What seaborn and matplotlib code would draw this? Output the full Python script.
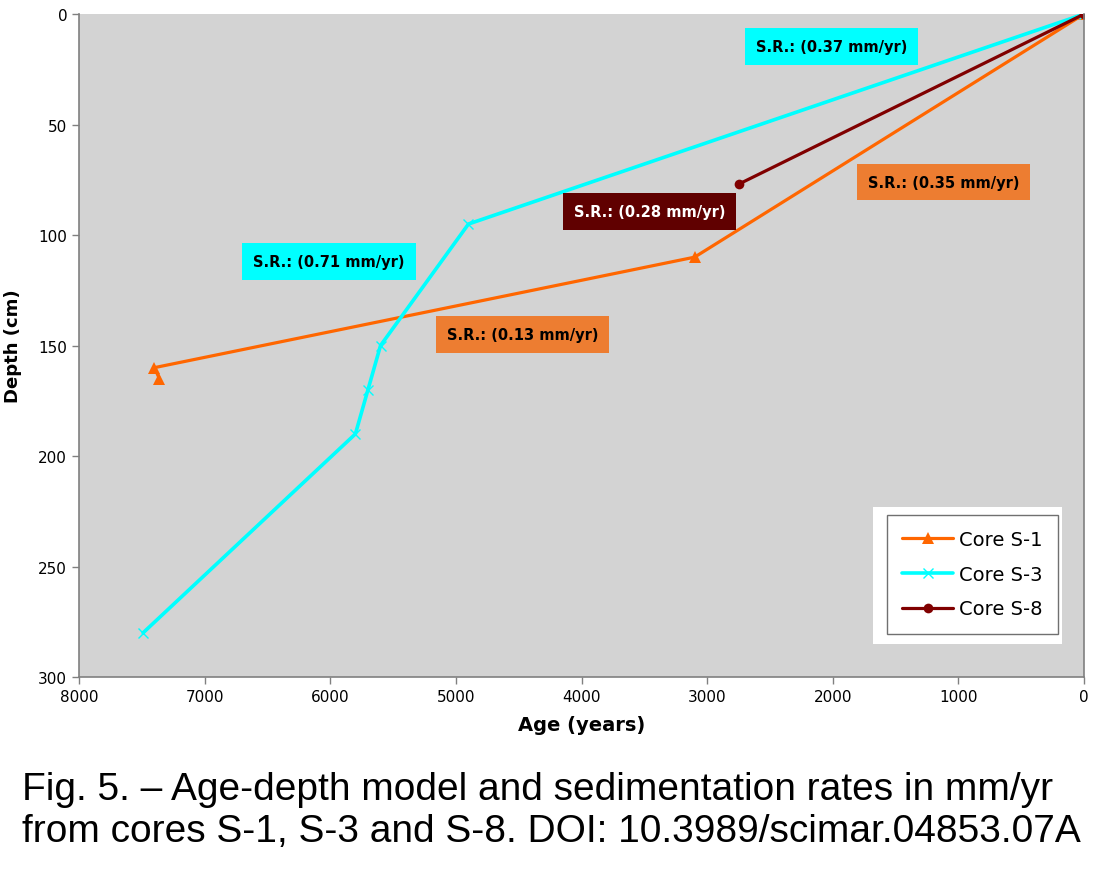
import matplotlib
matplotlib.use("Agg")
import matplotlib.pyplot as plt
from matplotlib.patches import Rectangle
import seaborn as sns

# age (years) / depth (cm) for each core
s1_age = [0, 3100, 7400, 7360]
s1_depth = [0, 110, 160, 165]
s3_age = [0, 4900, 5600, 5700, 5800, 7490]
s3_depth = [0, 95, 150, 170, 190, 280]
s8_age = [0, 2750]
s8_depth = [0, 77]

# sedimentation rate labels: text, age, depth, box colour, text colour
sr_text = ["S.R.: (0.37 mm/yr)", "S.R.: (0.35 mm/yr)", "S.R.: (0.28 mm/yr)",
           "S.R.: (0.71 mm/yr)", "S.R.: (0.13 mm/yr)"]
sr_age = [2010, 1120, 3460, 6010, 4470]
sr_depth = [14.5, 76, 89.5, 112, 145]
sr_box = ["#00FFFF", "#ED7D31", "#600000", "#00FFFF", "#ED7D31"]
sr_fg = ["black", "black", "white", "black", "black"]

sns.set_style("white")
plt.rcParams['font.family'] = ['DejaVu Sans']
plt.rcParams.update({"text.color": "black", "axes.labelcolor": "black",
                     "xtick.color": "black", "ytick.color": "black"})

fig = plt.figure(figsize=(11.02, 8.87), dpi=100)
ax = fig.add_axes([0.0717, 0.2356, 0.912, 0.7474])
ax.set_facecolor("#D3D3D3")

sns.lineplot(x=s1_age, y=s1_depth, ax=ax, sort=False, estimator=None, color="#FF6600",
             lw=2.3, marker="^", markersize=8, markeredgewidth=0, label="Core S-1")
sns.lineplot(x=s3_age, y=s3_depth, ax=ax, sort=False, estimator=None, color="#00FFFF",
             lw=2.6, marker="x", markersize=7, markeredgewidth=1.0,
             markeredgecolor="#00FFFF", label="Core S-3")
sns.lineplot(x=s8_age, y=s8_depth, ax=ax, sort=False, estimator=None, color="#800000",
             lw=2.3, marker="o", markersize=7, markeredgewidth=0, label="Core S-8")

for t, a, d, bc, fc in zip(sr_text, sr_age, sr_depth, sr_box, sr_fg):
    ax.text(a, d, t, ha="center", va="center", fontsize=10.5, fontweight="bold", color=fc,
            bbox=dict(boxstyle="square,pad=0.75", fc=bc, ec="none"))

ax.set_xlim(8000, 0)
ax.set_ylim(300, 0)
ax.set_xticks(range(8000, -1, -1000))
ax.set_yticks(range(0, 301, 50))
ax.tick_params(axis="both", labelsize=11, length=5, width=1, color="#808080",
               direction="out", bottom=True, left=True)
ax.set_xlabel("Age (years)", fontsize=14, fontweight="bold", labelpad=8)
ax.set_ylabel("Depth (cm)", fontsize=13, fontweight="bold", labelpad=12)

for side in ["left", "bottom", "right"]:
    ax.spines[side].set_color("#808080")
    ax.spines[side].set_linewidth(1.2)
ax.spines["top"].set_visible(False)

# white panel behind the legend
ax.add_patch(Rectangle((0.790, 0.050), 0.188, 0.206, transform=ax.transAxes,
                       facecolor="white", edgecolor="none", zorder=4))
leg = ax.legend(loc="lower right", bbox_to_anchor=(0.974, 0.065), borderaxespad=0,
                fontsize=14, frameon=True, fancybox=False, edgecolor="#707070",
                facecolor="white", framealpha=1, handlelength=2.6, borderpad=0.8,
                labelspacing=0.8, handletextpad=0.3)
leg.get_frame().set_linewidth(1.0)
leg.set_zorder(5)

fig.text(0.02, 0.0857, "Fig. 5. – Age-depth model and sedimentation rates in mm/yr\n"
         "from cores S-1, S-3 and S-8. DOI: 10.3989/scimar.04853.07A",
         fontsize=28, family=["Liberation Sans Narrow", "Liberation Sans"],
         color="black", ha="left", va="center", linespacing=1.2)

fig.savefig("out.png", dpi=100, facecolor="white")
